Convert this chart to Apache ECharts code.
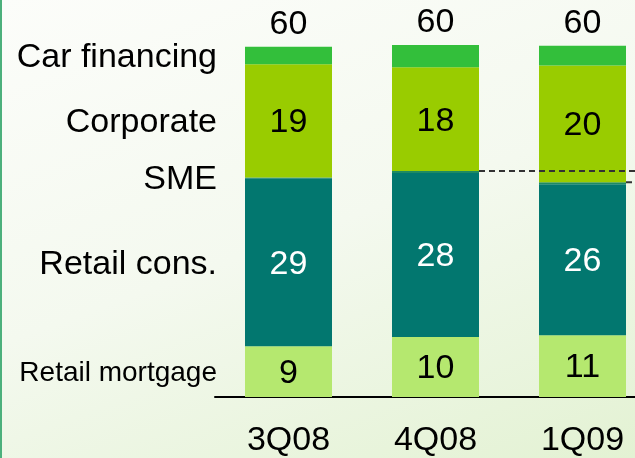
<!DOCTYPE html>
<html>
<head>
<meta charset="utf-8">
<script src="https://cdn.jsdelivr.net/npm/echarts@6/dist/echarts.min.js"></script>
<style>
html,body{margin:0;padding:0;}
#wrap{position:relative;width:635px;height:458px;background:linear-gradient(160deg,#fcfdfa 0%,#f4f9ef 50%,#e3f2d3 100%);overflow:hidden;}
#wrap:before{content:'';position:absolute;left:0;top:0;width:2px;height:458px;background:#4cb07c;z-index:2;}
#chart{width:700px;height:458px;}
</style>
</head>
<body>
<div id="wrap"><div id="chart"></div></div>
<script>
const categories = ['3Q08', '4Q08', '1Q09'];
const segmentNames = ['Retail mortgage', 'Retail cons.', 'SME', 'Corporate', 'Car financing'];
const retailMortgage = [8.7, 10.3, 10.6];
const retailCons = [28.8, 28.1, 25.9];
const sme = [0.15, 0.35, 0.35];
const corporate = [19.4, 17.8, 20.0];
const carFinancing = [3.0, 3.8, 3.4];
const mortgageLabels = ['9', '10', '11'];
const consLabels = ['29', '28', '26'];
const corporateLabels = ['19', '18', '20'];
const totalLabels = ['60', '60', '60'];
const connectorCategories = [1, 2];

const FONT = '"Liberation Sans", Arial, sans-serif';
const BAR_W = 87;
const colors = ['#b5e86f', '#02776f', '#1f8a62', '#99cc00', '#33bf3b'];
const seriesValues = [retailMortgage, retailCons, sme, corporate, carFinancing];
const seriesLabels = [mortgageLabels, consLabels, null, corporateLabels, totalLabels];

function cumTop(segIdx, cat) {
  let s = 0;
  for (let k = 0; k <= segIdx; k++) s += seriesValues[k][cat];
  return s;
}

const barSeries = seriesValues.map((vals, si) => {
  const lab = seriesLabels[si];
  const isTop = si === 4;
  return {
    type: 'bar',
    name: segmentNames[si],
    stack: 'total',
    barWidth: BAR_W,
    data: vals,
    itemStyle: { color: colors[si] },
    label: lab ? {
      show: true,
      position: isTop ? 'top' : 'inside',
      distance: isTop ? 5 : 5,
      offset: [0, isTop ? 0 : 2],
      formatter: p => lab[p.dataIndex],
      fontFamily: FONT,
      fontSize: 34,
      color: si === 1 ? '#ffffff' : '#000000'
    } : { show: false },
    emphasis: { disabled: true },
    silent: true,
    z: 2
  };
});

// left-hand segment names, placed at the middle of each segment of the first bar
const nameData = segmentNames.map((n, si) => [0, cumTop(si, 0) - seriesValues[si][0] / 2, si]);
const nameSeries = {
  type: 'custom',
  data: nameData,
  silent: true,
  z: 5,
  clip: false,
  renderItem: function (params, api) {
    const p = api.coord([api.value(0), api.value(1)]);
    const si = api.value(2);
    return {
      type: 'text',
      x: p[0] - BAR_W / 2 - 28,
      y: p[1] + 2,
      style: {
        text: segmentNames[si],
        textAlign: 'right',
        textVerticalAlign: 'middle',
        fontFamily: FONT,
        fontSize: si === 0 ? 28 : 34,
        fill: '#000'
      }
    };
  }
};

// dashed connectors from the top of SME of a bar, extending to the right
const connData = connectorCategories.map(c => [c, cumTop(2, c)]);
const connSeries = {
  type: 'custom',
  data: connData,
  silent: true,
  z: 6,
  clip: false,
  renderItem: function (params, api) {
    const p = api.coord([api.value(0), api.value(1)]);
    const step = api.size([1, 0])[0];
    return {
      type: 'line',
      shape: { x1: p[0] + BAR_W / 2, y1: p[1], x2: p[0] + BAR_W / 2 + step * 1.2, y2: p[1] },
      style: { stroke: '#333', lineWidth: 2, lineDash: [6, 4] }
    };
  }
};

const chart = echarts.init(document.getElementById('chart'), null, { renderer: 'canvas' });
chart.setOption({
  animation: false,
  backgroundColor: 'transparent',
  grid: { left: 215, width: 441, top: 18, height: 379 },
  xAxis: {
    type: 'category',
    data: categories,
    axisLine: { show: true, lineStyle: { color: '#000', width: 2 } },
    axisTick: { show: false },
    axisLabel: { fontFamily: FONT, fontSize: 34, color: '#000', margin: 27 }
  },
  yAxis: {
    type: 'value',
    min: 0,
    max: 65,
    show: false,
    splitLine: { show: false }
  },
  series: barSeries.concat([nameSeries, connSeries])
});
</script>
</body>
</html>
